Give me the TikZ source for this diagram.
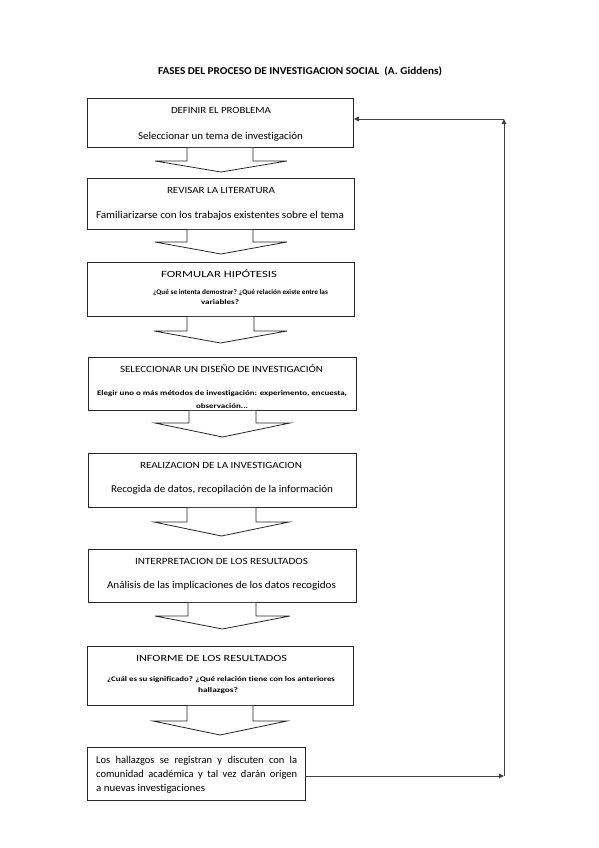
\documentclass[tikz,border=0pt]{standalone}
\usepackage{fontspec}
\setmainfont{Carlito}[Ligatures={NoCommon}]
\usetikzlibrary{arrows.meta}
\newsavebox\fitbox
\newcommand\fitw[2]{\sbox\fitbox{#2}\pgfmathsetmacro\fitsx{#1/\wd\fitbox}\scalebox{\fitsx}[1]{\usebox\fitbox}}
\tikzset{
  boxnode/.style={draw=black!85,line width=0.8pt,rectangle,inner sep=0pt,anchor=north west},
  head/.style={font=\fontsize{9.5}{10}\selectfont,inner sep=0pt},
  body/.style={font=\fontsize{10.5}{12}\selectfont,inner sep=0pt},
  small/.style={font=\fontsize{7}{8}\selectfont\bfseries,inner sep=0pt},
  titlestyle/.style={font=\fontsize{10.5}{12}\selectfont\bfseries,inner sep=0pt},
  blockarrow/.style={draw=black!85,line width=0.8pt,fill=white,line join=miter},
  loopline/.style={draw=black!75,line width=0.9pt,-{Triangle[length=5pt,width=4.5pt]}}
}
\begin{document}
\begin{tikzpicture}[x=1pt,y=-1pt]
\useasboundingbox (0,0) rectangle (599,848);
\node[titlestyle] (title) at (300,71) {\fitw{284}{FASES DEL PROCESO DE INVESTIGACION SOCIAL\ \ (A. Giddens)}};
% boxes
\node[boxnode,minimum width=266pt,minimum height=49pt] (b1) at (87,98) {};
\node[boxnode,minimum width=267pt,minimum height=51pt] (b2) at (87,178) {};
\node[boxnode,minimum width=267pt,minimum height=54pt] (b3) at (87,262) {};
\node[boxnode,minimum width=268pt,minimum height=53pt] (b4) at (88,357) {};
\node[boxnode,minimum width=268pt,minimum height=54pt] (b5) at (88,453) {};
\node[boxnode,minimum width=268pt,minimum height=53pt] (b6) at (88,549) {};
\node[boxnode,minimum width=266pt,minimum height=59pt] (b7) at (87,646) {};
\node[boxnode,minimum width=218pt,minimum height=53pt] (b8) at (87,747) {};
% texts
\node[head] (t1a) at (221,110) {\fitw{100}{DEFINIR EL PROBLEMA}};
\node[body] (t1b) at (220.5,137) {\fitw{165}{Seleccionar un tema de investigación}};
\node[head] (t2a) at (221,190) {\fitw{108}{REVISAR LA LITERATURA}};
\node[body] (t2b) at (220,216) {\fitw{248}{Familiarizarse con los trabajos existentes sobre el tema}};
\node[head] (t3a) at (219,274) {\fitw{116}{FORMULAR HIPÓTESIS}};
\node[small] (t3b) at (240.5,293) {\fitw{175}{¿Qué se intenta demostrar? ¿Qué relación existe entre las}};
\node[small] (t3c) at (220,302.5) {\fitw{38}{variables?}};
\node[head] (t4a) at (221.5,369) {\fitw{203}{SELECCIONAR UN DISEÑO DE INVESTIGACIÓN}};
\node[small] (t4b) at (222,394) {\fitw{250}{Elegir uno o más métodos de investigación: experimento, encuesta,}};
\node[small] (t4c) at (222,406) {\fitw{52}{observación...}};
\node[head] (t5a) at (221,465) {\fitw{162}{REALIZACION DE LA INVESTIGACION}};
\node[body] (t5b) at (222,490) {\fitw{222}{Recogida de datos, recopilación de la información}};
\node[head] (t6a) at (221.5,561) {\fitw{173}{INTERPRETACION DE LOS RESULTADOS}};
\node[body] (t6b) at (221.5,586) {\fitw{229}{Análisis de las implicaciones de los datos recogidos}};
\node[head] (t7a) at (211.5,658) {\fitw{151}{INFORME DE LOS RESULTADOS}};
\node[small] (t7b) at (221,680) {\fitw{228}{¿Cuál es su significado? ¿Qué relación tiene con los anteriores}};
\node[small] (t7c) at (218,691) {\fitw{40}{hallazgos?}};
\node[body,anchor=west] (t8a) at (96,761) {\makebox[201pt][s]{Los hallazgos se registran y discuten con la}};
\node[body,anchor=west] (t8b) at (96,775) {\makebox[201pt][s]{comunidad académica y tal vez darán origen}};
\node[body,anchor=west] (t8c) at (96,789) {\fitw{109}{a nuevas investigaciones}};
% block arrows
\foreach \b/\se/\tp/\xl/\xr/\wl/\wr in {b1/161/172/187/253/155/287, b2/242/254/187/253/155/287, b3/331/343/187/254/154/287, b4/423/437/189/256/155/290, b5/522/536/187/256/154/289, b6/616/629/188/256/155/290, b7/721/735/187/253/153/287}{
  \draw[blockarrow] (\b.south -| {(\xl,0)}) -- (\xl,\se) -- (\wl,\se) -- ({(\wl+\wr)/2},\tp) -- (\wr,\se) -- (\xr,\se) -- (\b.south -| {(\xr,0)});
}
% loop
\coordinate (cb) at (504,776);
\coordinate (ct) at (504,119);
\draw[loopline] (b8.east |- cb) -- (cb);
\draw[loopline] (cb) -- (ct);
\draw[loopline] (ct) -- (b1.east |- ct);
\end{tikzpicture}
\end{document}
